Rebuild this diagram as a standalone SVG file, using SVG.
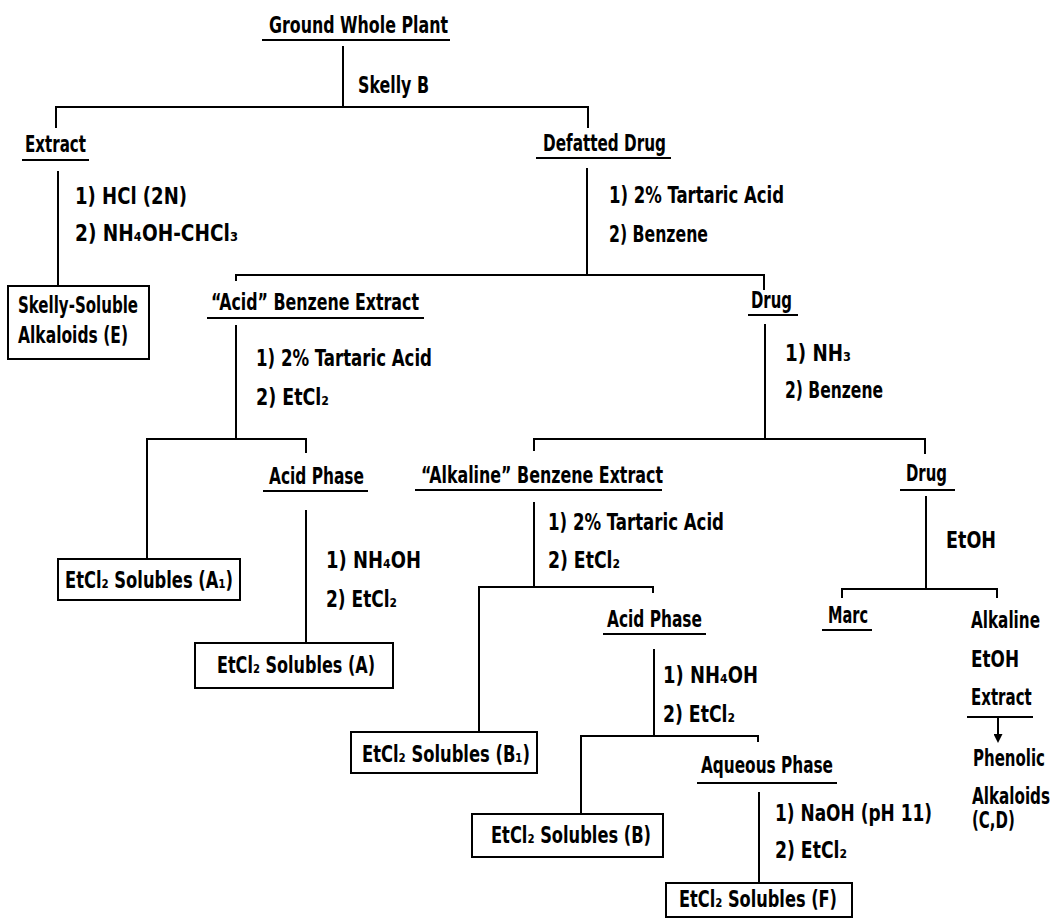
<svg xmlns="http://www.w3.org/2000/svg" width="1054" height="919" viewBox="0 0 1054 919">
<style>
.t{font-family:"Liberation Sans Narrow","DejaVu Sans Condensed","Liberation Sans",sans-serif;font-weight:bold;font-size:22.5px;font-stretch:condensed;fill:#000}
.c{stroke:#000;stroke-width:2;fill:none}
.u{stroke:#000;stroke-width:1.8;fill:none}
.b{stroke:#000;stroke-width:2;fill:none}
</style>
<defs>
<marker id="ah" viewBox="0 0 9 9" refX="0" refY="4.5" markerWidth="9" markerHeight="9" markerUnits="userSpaceOnUse" orient="auto">
<path d="M0,0 L9,4.5 L0,9 Z" fill="#000"/>
</marker>
</defs>
<rect width="1054" height="919" fill="#fff"/>

<g id="connectors">
<path class="c" d="M343,46 V107 M56,128 V107 H588 V128"/>
<path class="c" d="M58,171 V286"/>
<path class="c" d="M587,168 V275 M236,281 V275 H764 V290"/>
<path class="c" d="M236,325 V439 M147,560 V439 H306 V453"/>
<path class="c" d="M765,324 V439 M534,451 V439 H925 V454"/>
<path class="c" d="M306,510 V643"/>
<path class="c" d="M534,502 V587 M479,732 V587 H653 V593"/>
<path class="c" d="M926,496 V589 M842,598 V589 H997 V598"/>
<path class="c" d="M654,649 V736 M581,814 V736 H758 V742"/>
<path class="c" d="M759,792 V883"/>
<line class="c" x1="998" y1="717" x2="998" y2="734" marker-end="url(#ah)"/>
<text class="t" x="358" y="93" textLength="71" lengthAdjust="spacingAndGlyphs">Skelly B</text>
<text class="t" x="75" y="204" textLength="112" lengthAdjust="spacingAndGlyphs">1) HCl (2N)</text>
<text class="t" x="75" y="241" textLength="163" lengthAdjust="spacingAndGlyphs">2) NH₄OH-CHCl₃</text>
<text class="t" x="609" y="203" textLength="175" lengthAdjust="spacingAndGlyphs">1) 2% Tartaric Acid</text>
<text class="t" x="609" y="242" textLength="99" lengthAdjust="spacingAndGlyphs">2) Benzene</text>
<text class="t" x="256" y="366" textLength="176" lengthAdjust="spacingAndGlyphs">1) 2% Tartaric Acid</text>
<text class="t" x="256" y="405" textLength="73" lengthAdjust="spacingAndGlyphs">2) EtCl₂</text>
<text class="t" x="785" y="361" textLength="66" lengthAdjust="spacingAndGlyphs">1) NH₃</text>
<text class="t" x="785" y="398" textLength="98" lengthAdjust="spacingAndGlyphs">2) Benzene</text>
<text class="t" x="326" y="568" textLength="95" lengthAdjust="spacingAndGlyphs">1) NH₄OH</text>
<text class="t" x="326" y="607" textLength="71" lengthAdjust="spacingAndGlyphs">2) EtCl₂</text>
<text class="t" x="548" y="530" textLength="176" lengthAdjust="spacingAndGlyphs">1) 2% Tartaric Acid</text>
<text class="t" x="548" y="568" textLength="72" lengthAdjust="spacingAndGlyphs">2) EtCl₂</text>
<text class="t" x="946" y="548" textLength="50" lengthAdjust="spacingAndGlyphs">EtOH</text>
<text class="t" x="663" y="683" textLength="95" lengthAdjust="spacingAndGlyphs">1) NH₄OH</text>
<text class="t" x="663" y="722" textLength="72" lengthAdjust="spacingAndGlyphs">2) EtCl₂</text>
<text class="t" x="775" y="821" textLength="157" lengthAdjust="spacingAndGlyphs">1) NaOH (pH 11)</text>
<text class="t" x="775" y="858" textLength="72" lengthAdjust="spacingAndGlyphs">2) EtCl₂</text>
</g>

<g id="n-ground">
<text class="t" x="269" y="33" textLength="179" lengthAdjust="spacingAndGlyphs">Ground Whole Plant</text>
<line class="u" x1="262" y1="40" x2="450" y2="40"/>
</g>
<g id="n-extract">
<text class="t" x="25" y="152" textLength="61" lengthAdjust="spacingAndGlyphs">Extract</text>
<line class="u" x1="22" y1="160" x2="89" y2="160"/>
</g>
<g id="n-defatted">
<text class="t" x="543" y="151" textLength="123" lengthAdjust="spacingAndGlyphs">Defatted Drug</text>
<line class="u" x1="536" y1="158" x2="671" y2="158"/>
</g>
<g id="n-skelly-soluble">
<rect class="b" x="8" y="286" width="141" height="73"/>
<text class="t" x="18" y="313" textLength="120" lengthAdjust="spacingAndGlyphs">Skelly-Soluble</text>
<text class="t" x="18" y="343" textLength="110" lengthAdjust="spacingAndGlyphs">Alkaloids (E)</text>
</g>
<g id="n-acid-benzene">
<text class="t" x="211" y="310" textLength="208" lengthAdjust="spacingAndGlyphs">“Acid” Benzene Extract</text>
<line class="u" x1="207" y1="318" x2="424" y2="318"/>
</g>
<g id="n-drug1">
<text class="t" x="751" y="308" textLength="41" lengthAdjust="spacingAndGlyphs">Drug</text>
<line class="u" x1="748" y1="315" x2="798" y2="315"/>
</g>
<g id="n-acid-phase1">
<text class="t" x="269" y="484" textLength="95" lengthAdjust="spacingAndGlyphs">Acid Phase</text>
<line class="u" x1="263" y1="491" x2="368" y2="491"/>
</g>
<g id="n-alkaline-benzene">
<text class="t" x="421" y="483" textLength="242" lengthAdjust="spacingAndGlyphs">“Alkaline” Benzene Extract</text>
<line class="u" x1="415" y1="490" x2="662" y2="490"/>
</g>
<g id="n-drug2">
<text class="t" x="906" y="481" textLength="41" lengthAdjust="spacingAndGlyphs">Drug</text>
<line class="u" x1="900" y1="490" x2="955" y2="490"/>
</g>
<g id="n-a1">
<rect class="b" x="58" y="559" width="182" height="41"/>
<text class="t" x="65" y="588" textLength="168" lengthAdjust="spacingAndGlyphs">EtCl₂ Solubles (A₁)</text>
</g>
<g id="n-a">
<rect class="b" x="195" y="643" width="198" height="45"/>
<text class="t" x="217" y="673" textLength="158" lengthAdjust="spacingAndGlyphs">EtCl₂ Solubles (A)</text>
</g>
<g id="n-acid-phase2">
<text class="t" x="607" y="627" textLength="95" lengthAdjust="spacingAndGlyphs">Acid Phase</text>
<line class="u" x1="603" y1="634" x2="706" y2="634"/>
</g>
<g id="n-marc">
<text class="t" x="828" y="623" textLength="40" lengthAdjust="spacingAndGlyphs">Marc</text>
<line class="u" x1="822" y1="630" x2="872" y2="630"/>
</g>
<g id="n-alkaline-etoh">
<text class="t" transform="translate(971,628) scale(0.75,1)" textLength="92" lengthAdjust="spacingAndGlyphs">Alkaline</text>
<text class="t" transform="translate(971,667) scale(0.75,1)" textLength="64" lengthAdjust="spacingAndGlyphs">EtOH</text>
<text class="t" transform="translate(971,705) scale(0.75,1)" textLength="81" lengthAdjust="spacingAndGlyphs">Extract</text>
<line class="u" x1="967" y1="717" x2="1033" y2="717"/>
</g>
<g id="n-phenolic">
<text class="t" transform="translate(973,766) scale(0.75,1)" textLength="96" lengthAdjust="spacingAndGlyphs">Phenolic</text>
<text class="t" transform="translate(972,804) scale(0.75,1)" textLength="104" lengthAdjust="spacingAndGlyphs">Alkaloids</text>
<text class="t" transform="translate(972,828) scale(0.75,1)" textLength="57" lengthAdjust="spacingAndGlyphs">(C,D)</text>
</g>
<g id="n-b1">
<rect class="b" x="351" y="732" width="186" height="41"/>
<text class="t" x="362" y="762" textLength="168" lengthAdjust="spacingAndGlyphs">EtCl₂ Solubles (B₁)</text>
</g>
<g id="n-aqueous">
<text class="t" x="701" y="773" textLength="132" lengthAdjust="spacingAndGlyphs">Aqueous Phase</text>
<line class="u" x1="697" y1="783" x2="837" y2="783"/>
</g>
<g id="n-b">
<rect class="b" x="472" y="814" width="191" height="43"/>
<text class="t" x="491" y="843" textLength="160" lengthAdjust="spacingAndGlyphs">EtCl₂ Solubles (B)</text>
</g>
<g id="n-f">
<rect class="b" x="666" y="883" width="186" height="34"/>
<text class="t" x="679" y="907" textLength="158" lengthAdjust="spacingAndGlyphs">EtCl₂ Solubles (F)</text>
</g>
</svg>
